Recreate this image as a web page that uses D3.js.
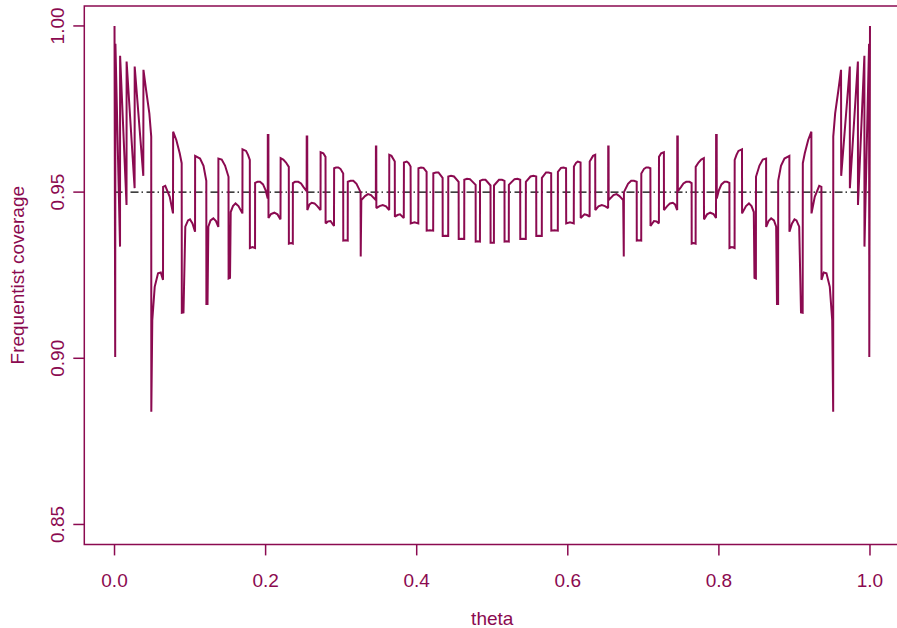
<!doctype html>
<html lang="en">
<head>
<meta charset="utf-8">
<title>Frequentist coverage</title>
<script src="https://d3js.org/d3.v7.min.js"></script>
<style>
  html, body { margin: 0; padding: 0; background: #fff; }
  svg text { font-family: "Liberation Sans", Arial, Helvetica, sans-serif; }
</style>
</head>
<body>
<svg id="chart" width="897" height="628"></svg>
<script>
// axis ticks
const xTicks = [0, 0.2, 0.4, 0.6, 0.8, 1.0];
const yTicks = [0.85, 0.90, 0.95, 1.00];
const nominal = 0.95;

// coverage curve: [theta, coverage]
// left half
const curveLeft = [
  [0.0000, 1.0000], [0.0009, 0.9004], [0.0012, 0.9946], [0.0073, 0.9336], [0.0074, 0.9910],
  [0.0159, 0.9461], [0.0160, 0.9893], [0.0266, 0.9512], [0.0267, 0.9878], [0.0381, 0.9549],
  [0.0383, 0.9868], [0.0421, 0.9802], [0.0461, 0.9737], [0.0486, 0.9667], [0.0487, 0.8839],
  [0.0500, 0.9115], [0.0532, 0.9215], [0.0576, 0.9256], [0.0612, 0.9258], [0.0642, 0.9236],
  [0.0643, 0.9516], [0.0672, 0.9519], [0.0731, 0.9486], [0.0774, 0.9436], [0.0776, 0.9682],
  [0.0818, 0.9657], [0.0863, 0.9617], [0.0889, 0.9587], [0.0891, 0.9137], [0.0913, 0.9138],
  [0.0937, 0.9396], [0.0973, 0.9415], [0.0999, 0.9418], [0.1032, 0.9406], [0.1066, 0.9381],
  [0.1067, 0.9609], [0.1132, 0.9601], [0.1178, 0.9579], [0.1215, 0.9534], [0.1216, 0.9163],
  [0.1231, 0.9163], [0.1242, 0.9396], [0.1271, 0.9415], [0.1308, 0.9421], [0.1343, 0.9413],
  [0.1374, 0.9395], [0.1375, 0.9601], [0.1419, 0.9598], [0.1463, 0.9580], [0.1509, 0.9546],
  [0.1510, 0.9240], [0.1529, 0.9242], [0.1538, 0.9440], [0.1568, 0.9458], [0.1602, 0.9466],
  [0.1641, 0.9458], [0.1693, 0.9436], [0.1694, 0.9629], [0.1741, 0.9624], [0.1767, 0.9612],
  [0.1791, 0.9597], [0.1792, 0.9332], [0.1827, 0.9335], [0.1860, 0.9332], [0.1861, 0.9528],
  [0.1893, 0.9531], [0.1926, 0.9531], [0.1966, 0.9523], [0.1999, 0.9506], [0.2028, 0.9481],
  [0.2029, 0.9672], [0.2037, 0.9672], [0.2038, 0.9422], [0.2071, 0.9434], [0.2115, 0.9438],
  [0.2157, 0.9433], [0.2197, 0.9418], [0.2199, 0.9602], [0.2234, 0.9598], [0.2270, 0.9589],
  [0.2307, 0.9576], [0.2308, 0.9345], [0.2336, 0.9347], [0.2360, 0.9345], [0.2361, 0.9527],
  [0.2389, 0.9531], [0.2433, 0.9531], [0.2469, 0.9526], [0.2502, 0.9515], [0.2543, 0.9503],
  [0.2544, 0.9667], [0.2551, 0.9667], [0.2552, 0.9446], [0.2581, 0.9463], [0.2610, 0.9468],
  [0.2647, 0.9466], [0.2687, 0.9457], [0.2727, 0.9446], [0.2728, 0.9620], [0.2764, 0.9617],
  [0.2793, 0.9606], [0.2794, 0.9406], [0.2826, 0.9412], [0.2859, 0.9413], [0.2905, 0.9398],
  [0.2907, 0.9572], [0.2932, 0.9574], [0.2962, 0.9574], [0.2991, 0.9570], [0.3027, 0.9556],
  [0.3028, 0.9354], [0.3058, 0.9355], [0.3087, 0.9354], [0.3088, 0.9531], [0.3124, 0.9534],
  [0.3161, 0.9534], [0.3203, 0.9525], [0.3257, 0.9500], [0.3259, 0.9306], [0.3267, 0.9476],
  [0.3316, 0.9488], [0.3355, 0.9494], [0.3395, 0.9491], [0.3459, 0.9476], [0.3460, 0.9637],
  [0.3465, 0.9637], [0.3466, 0.9452], [0.3508, 0.9458], [0.3550, 0.9461], [0.3594, 0.9457],
  [0.3636, 0.9446], [0.3637, 0.9612], [0.3666, 0.9609], [0.3710, 0.9592], [0.3711, 0.9426],
  [0.3746, 0.9431], [0.3779, 0.9433], [0.3829, 0.9422], [0.3831, 0.9589], [0.3868, 0.9592],
  [0.3891, 0.9588], [0.3919, 0.9577], [0.3921, 0.9406], [0.3971, 0.9409], [0.4021, 0.9406],
  [0.4023, 0.9572], [0.4057, 0.9574], [0.4090, 0.9573], [0.4131, 0.9561], [0.4132, 0.9384],
  [0.4176, 0.9385], [0.4218, 0.9384], [0.4220, 0.9557], [0.4255, 0.9559], [0.4288, 0.9559],
  [0.4343, 0.9543], [0.4344, 0.9368], [0.4381, 0.9369], [0.4417, 0.9368], [0.4418, 0.9547],
  [0.4454, 0.9549], [0.4494, 0.9547], [0.4555, 0.9531], [0.4556, 0.9359], [0.4593, 0.9360],
  [0.4629, 0.9359], [0.4630, 0.9537], [0.4666, 0.9540], [0.4705, 0.9539], [0.4780, 0.9522],
  [0.4781, 0.9351], [0.4809, 0.9352], [0.4837, 0.9351], [0.4838, 0.9534], [0.4871, 0.9537],
  [0.4911, 0.9537], [0.4977, 0.9520], [0.4978, 0.9348], [0.5000, 0.9348]
];
// right half
const curveRight = [
  [0.5022, 0.9348], [0.5023, 0.9520], [0.5089, 0.9537], [0.5129, 0.9537], [0.5162, 0.9534],
  [0.5163, 0.9351], [0.5191, 0.9352], [0.5219, 0.9351], [0.5220, 0.9522], [0.5295, 0.9539],
  [0.5334, 0.9540], [0.5370, 0.9537], [0.5371, 0.9359], [0.5407, 0.9360], [0.5444, 0.9359],
  [0.5445, 0.9531], [0.5506, 0.9547], [0.5546, 0.9549], [0.5582, 0.9547], [0.5583, 0.9368],
  [0.5619, 0.9369], [0.5656, 0.9368], [0.5657, 0.9543], [0.5712, 0.9559], [0.5745, 0.9559],
  [0.5780, 0.9557], [0.5782, 0.9384], [0.5824, 0.9385], [0.5868, 0.9384], [0.5869, 0.9561],
  [0.5910, 0.9573], [0.5943, 0.9574], [0.5977, 0.9572], [0.5979, 0.9406], [0.6029, 0.9409],
  [0.6079, 0.9406], [0.6081, 0.9577], [0.6109, 0.9588], [0.6132, 0.9592], [0.6169, 0.9589],
  [0.6171, 0.9422], [0.6221, 0.9433], [0.6254, 0.9431], [0.6289, 0.9426], [0.6290, 0.9592],
  [0.6334, 0.9609], [0.6363, 0.9612], [0.6364, 0.9446], [0.6406, 0.9457], [0.6450, 0.9461],
  [0.6492, 0.9458], [0.6534, 0.9452], [0.6535, 0.9637], [0.6540, 0.9637], [0.6541, 0.9476],
  [0.6605, 0.9491], [0.6645, 0.9494], [0.6684, 0.9488], [0.6733, 0.9476], [0.6741, 0.9306],
  [0.6743, 0.9500], [0.6797, 0.9525], [0.6839, 0.9534], [0.6876, 0.9534], [0.6912, 0.9531],
  [0.6913, 0.9354], [0.6942, 0.9355], [0.6972, 0.9354], [0.6973, 0.9556], [0.7009, 0.9570],
  [0.7038, 0.9574], [0.7068, 0.9574], [0.7093, 0.9572], [0.7095, 0.9398], [0.7141, 0.9413],
  [0.7174, 0.9412], [0.7206, 0.9406], [0.7207, 0.9606], [0.7236, 0.9617], [0.7272, 0.9620],
  [0.7273, 0.9446], [0.7313, 0.9457], [0.7353, 0.9466], [0.7390, 0.9468], [0.7419, 0.9463],
  [0.7448, 0.9446], [0.7449, 0.9667], [0.7456, 0.9667], [0.7457, 0.9503], [0.7498, 0.9515],
  [0.7531, 0.9526], [0.7567, 0.9531], [0.7611, 0.9531], [0.7639, 0.9527], [0.7640, 0.9345],
  [0.7664, 0.9347], [0.7692, 0.9345], [0.7693, 0.9576], [0.7730, 0.9589], [0.7766, 0.9598],
  [0.7801, 0.9602], [0.7803, 0.9418], [0.7843, 0.9433], [0.7885, 0.9438], [0.7929, 0.9434],
  [0.7962, 0.9422], [0.7963, 0.9672], [0.7971, 0.9672], [0.7972, 0.9481], [0.8001, 0.9506],
  [0.8034, 0.9523], [0.8074, 0.9531], [0.8107, 0.9531], [0.8139, 0.9528], [0.8140, 0.9332],
  [0.8173, 0.9335], [0.8208, 0.9332], [0.8209, 0.9597], [0.8233, 0.9612], [0.8259, 0.9624],
  [0.8306, 0.9629], [0.8307, 0.9436], [0.8359, 0.9458], [0.8398, 0.9466], [0.8432, 0.9458],
  [0.8462, 0.9440], [0.8471, 0.9242], [0.8490, 0.9240], [0.8491, 0.9546], [0.8537, 0.9580],
  [0.8581, 0.9598], [0.8625, 0.9601], [0.8626, 0.9395], [0.8657, 0.9413], [0.8692, 0.9421],
  [0.8729, 0.9415], [0.8758, 0.9396], [0.8769, 0.9163], [0.8784, 0.9163], [0.8785, 0.9534],
  [0.8822, 0.9579], [0.8868, 0.9601], [0.8933, 0.9609], [0.8934, 0.9381], [0.8968, 0.9406],
  [0.9001, 0.9418], [0.9027, 0.9415], [0.9063, 0.9396], [0.9087, 0.9138], [0.9109, 0.9137],
  [0.9111, 0.9587], [0.9137, 0.9617], [0.9182, 0.9657], [0.9224, 0.9682], [0.9226, 0.9436],
  [0.9269, 0.9486], [0.9328, 0.9519], [0.9357, 0.9516], [0.9358, 0.9236], [0.9388, 0.9258],
  [0.9424, 0.9256], [0.9468, 0.9215], [0.9500, 0.9115], [0.9513, 0.8839], [0.9514, 0.9667],
  [0.9539, 0.9737], [0.9579, 0.9802], [0.9617, 0.9868], [0.9619, 0.9549], [0.9733, 0.9878],
  [0.9734, 0.9512], [0.9840, 0.9893], [0.9841, 0.9461], [0.9926, 0.9910], [0.9927, 0.9336],
  [0.9988, 0.9946], [0.9991, 0.9004], [1.0000, 1.0000]
];

const ink = "#8B0A50";
const svg = d3.select("#chart");
svg.append("rect").attr("width", 897).attr("height", 628).attr("fill", "#fff");

// R-style 4% padding around the data ranges
const x = d3.scaleLinear().domain([-0.04, 1.04]).range([84.3, 900.2]);
const y = d3.scaleLinear().domain([0.844, 1.006]).range([544.4, 6]);

const x0 = x.range()[0], x1 = x.range()[1];
const yb = y.range()[0], yt = y.range()[1];

// nominal level
svg.append("line")
  .attr("x1", x(0)).attr("x2", x(1))
  .attr("y1", y(nominal)).attr("y2", y(nominal))
  .attr("stroke", "#000").attr("stroke-width", 1.4)
  .attr("stroke-dasharray", "8,3,1.5,3.5");

// coverage curve
const line = d3.line().x(d => x(d[0])).y(d => y(d[1]));
svg.append("path")
  .datum(curveLeft.concat(curveRight))
  .attr("d", line)
  .attr("fill", "none")
  .attr("stroke", ink)
  .attr("stroke-width", 2)
  .attr("stroke-linejoin", "miter")
  .attr("stroke-miterlimit", 2);

// box
svg.append("path")
  .attr("d", `M${x1},${yt}H${x0}V${yb}H${x1}`)
  .attr("fill", "none").attr("stroke", ink).attr("stroke-width", 1.5);

// x axis
const xAxis = svg.append("g");
xAxis.selectAll("line").data(xTicks).join("line")
  .attr("x1", d => x(d)).attr("x2", d => x(d))
  .attr("y1", yb).attr("y2", yb + 11)
  .attr("stroke", ink).attr("stroke-width", 1.5);
xAxis.selectAll("text").data(xTicks).join("text")
  .attr("x", d => x(d)).attr("y", 587)
  .attr("text-anchor", "middle").attr("font-size", 19).attr("fill", ink)
  .text(d3.format(".1f"));

// y axis
const yAxis = svg.append("g");
yAxis.selectAll("line").data(yTicks).join("line")
  .attr("x1", x0 - 11).attr("x2", x0)
  .attr("y1", d => y(d)).attr("y2", d => y(d))
  .attr("stroke", ink).attr("stroke-width", 1.5);
yAxis.selectAll("text").data(yTicks).join("text")
  .attr("transform", d => `translate(64,${y(d)}) rotate(-90)`)
  .attr("text-anchor", "middle").attr("font-size", 19).attr("fill", ink)
  .text(d3.format(".2f"));

// axis titles
svg.append("text")
  .attr("x", (x0 + x1) / 2).attr("y", 625)
  .attr("text-anchor", "middle").attr("font-size", 19).attr("fill", ink)
  .text("theta");
svg.append("text")
  .attr("transform", `translate(24,${(yt + yb) / 2}) rotate(-90)`)
  .attr("text-anchor", "middle").attr("font-size", 19).attr("fill", ink)
  .text("Frequentist coverage");
</script>
</body>
</html>
